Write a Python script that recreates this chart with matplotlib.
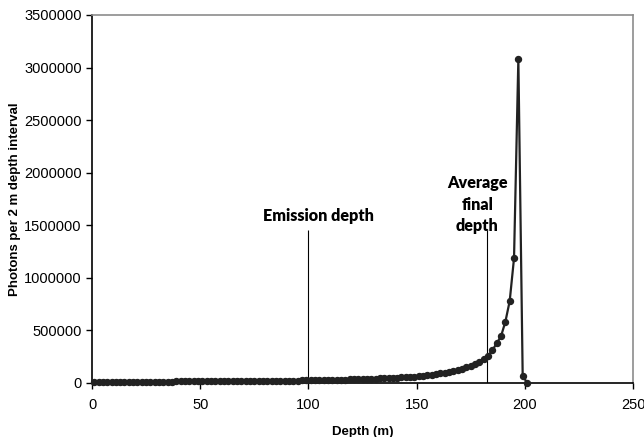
import numpy as np
from matplotlib import pyplot as plt

# 2 m bins, centre depth of each bin [m]
depth = np.arange(1, 202, 2)

# photons counted in each 2 m bin
photons = [
    8000, 8100, 8250, 8400, 8550, 8750, 8900, 9050, 9250, 9400,
    9600, 9800, 9950, 10150, 10350, 10550, 10750, 10950, 11150, 11350,
    11550, 11800, 12000, 12250, 12500, 12750, 13000, 13250, 13550, 13800,
    14100, 14400, 14700, 15000, 15300, 15650, 16000, 16350, 16700, 17100,
    17500, 17900, 18300, 18700, 19150, 19650, 20150, 20650, 21200, 21800,
    22400, 23200, 24000, 24800, 25700, 26700, 27700, 28700, 29800, 31000,
    32200, 33500, 34800, 36200, 37600, 39100, 40800, 42600, 44500, 46400,
    48500, 50800, 53300, 55900, 58700, 61600, 65500, 69500, 74000, 80000,
    87700, 94000, 102000, 111000, 121000, 132000, 145000, 160000, 178000, 199000,
    224000, 256000, 310000, 374000, 443000, 580000, 777000, 1185000, 3080000, 65000,
    0,
]

emission_depth = 100
average_final_depth = 182.5
marker_top = 1450000

xticks = [0, 50, 100, 150, 200, 250]
yticks = [0, 500000, 1000000, 1500000, 2000000, 2500000, 3000000, 3500000]

plt.rcParams['font.family'] = ['Liberation Sans', 'DejaVu Sans']
plt.rcParams['xtick.direction'] = 'out'
plt.rcParams['ytick.direction'] = 'out'

fig = plt.figure(figsize=(6.44, 4.37), dpi=100)
ax1 = fig.add_axes([0.1429, 0.1243, 0.8401, 0.8414])

ax1.plot(depth, photons, color='#222222', lw=1.6, marker='o', ms=4.3,
         clip_on=False, zorder=3)

# reference depths
ax1.vlines(emission_depth, 0, marker_top, color='black', lw=0.8)
ax1.vlines(average_final_depth, 0, marker_top, color='black', lw=0.8)

ax1.text(104.8, 1590000, 'Emission depth', ha='center', va='center',
         family=['Lato', 'DejaVu Sans'], weight='heavy', fontsize=11.6)
ax1.text(178, 1695000, 'Average\nfinal\ndepth', ha='center',
         va='center', family=['Lato', 'DejaVu Sans'], weight='heavy',
         fontsize=11.6, linespacing=1.45)

ax1.set_xlim(0, 250)
ax1.set_ylim(0, 3500000)
ax1.set_xticks(xticks)
ax1.set_yticks(yticks)
ax1.set_xticklabels([str(v) for v in xticks])
ax1.set_yticklabels([str(v) for v in yticks])
ax1.tick_params(labelsize=10.5, length=4, width=1, color='black')
ax1.tick_params(axis='x', pad=7)

ax1.set_xlabel('Depth (m)', fontsize=9.5, weight='bold', labelpad=10)
ax1.set_ylabel('Photons per 2 m depth interval', fontsize=9.5, weight='bold')
ax1.yaxis.set_label_coords(-0.131, 0.5)

for side in ['top', 'right']:
    ax1.spines[side].set_color('#8c8c8c')
    ax1.spines[side].set_linewidth(1.2)
for side in ['left', 'bottom']:
    ax1.spines[side].set_color('black')
    ax1.spines[side].set_linewidth(1.2)

fig.savefig('out.png', dpi=100)
plt.close()
